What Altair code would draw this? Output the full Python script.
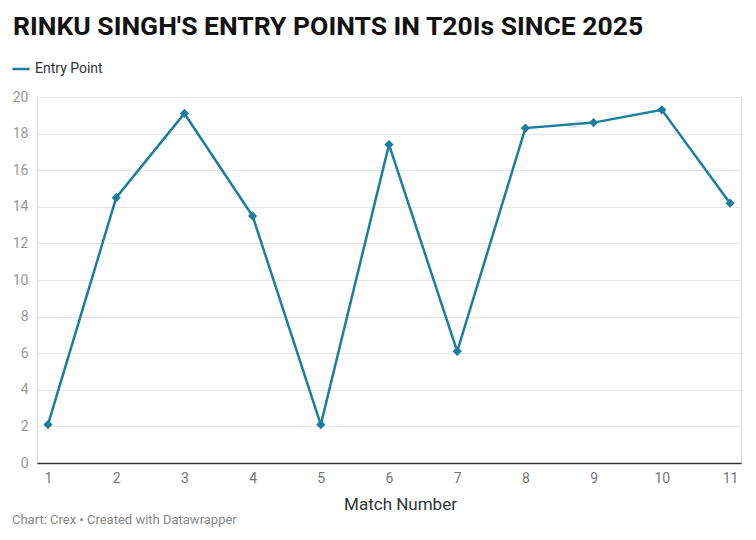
import altair as alt
import pandas as pd

matches = [1, 2, 3, 4, 5, 6, 7, 8, 9, 10, 11]
entry_points = [2.1, 14.5, 19.1, 13.5, 2.1, 17.4, 6.1, 18.3, 18.6, 19.3, 14.2]
series_name = "Entry Point"
y_ticks = [0, 2, 4, 6, 8, 10, 12, 14, 16, 18, 20]

df = pd.DataFrame({"match": matches, "value": entry_points, "series": [series_name] * len(matches)})

W, H = 704, 366
COLOR = "#1b7e9e"

x = alt.X("match:Q", scale=alt.Scale(domain=[0.839, 11.161], nice=False, zero=False),
          axis=alt.Axis(values=matches, title="Match Number", grid=False, ticks=False,
                        domainColor="#333333", domainWidth=1.5, labelColor="#777777",
                        labelFontSize=14, labelPadding=8, titleFontSize=17, titleColor="#333333",
                        titleFontWeight="normal", titlePadding=11, titleX=363,
                        labelFont="Roboto", titleFont="Roboto"))
y = alt.Y("value:Q", scale=alt.Scale(domain=[0, 20], nice=False),
          axis=alt.Axis(values=y_ticks, title=None, domain=False, ticks=False, gridColor="#e6e6e6",
                        labelColor="#999999", labelFontSize=14, labelPadding=9, labelFont="Roboto"))
color = alt.Color("series:N", scale=alt.Scale(range=[COLOR]),
                  legend=alt.Legend(title=None, orient="none", legendX=-26, legendY=-38,
                                    symbolType="stroke", symbolStrokeWidth=2.5, symbolSize=300,
                                    labelFontSize=14, labelColor="#333333", labelFont="Roboto"))

line = alt.Chart(df).mark_line(strokeWidth=2.5).encode(x=x, y=y, color=color)
pts = alt.Chart(df).mark_point(shape="diamond", filled=True, size=85, opacity=1).encode(
    x=x, y=y, color=alt.Color("series:N", scale=alt.Scale(range=[COLOR]), legend=None))

footer = alt.Chart(pd.DataFrame({"t": ["Chart: Crex • Created with Datawrapper"]})).mark_text(
    align="left", baseline="middle", fontSize=13, color="#888888", font="Roboto"
).encode(text="t:N", x=alt.value(-25), y=alt.value(H + 57))

chart = alt.layer(line, pts, footer).properties(
    width=W, height=H,
    title=alt.TitleParams("RINKU SINGH'S ENTRY POINTS IN T20Is SINCE 2025", anchor="start",
                          frame="group", fontSize=26.5, font="Roboto", fontWeight="bold",
                          color="#111111", dx=-24, offset=19),
    autosize=alt.AutoSizeParams(type="none"),
    padding={"left": 37, "top": 97, "right": 15, "bottom": 77},
).configure_view(stroke=None).configure(background="white")

chart.save("out.html", embed_options={"renderer": "svg", "actions": False})
